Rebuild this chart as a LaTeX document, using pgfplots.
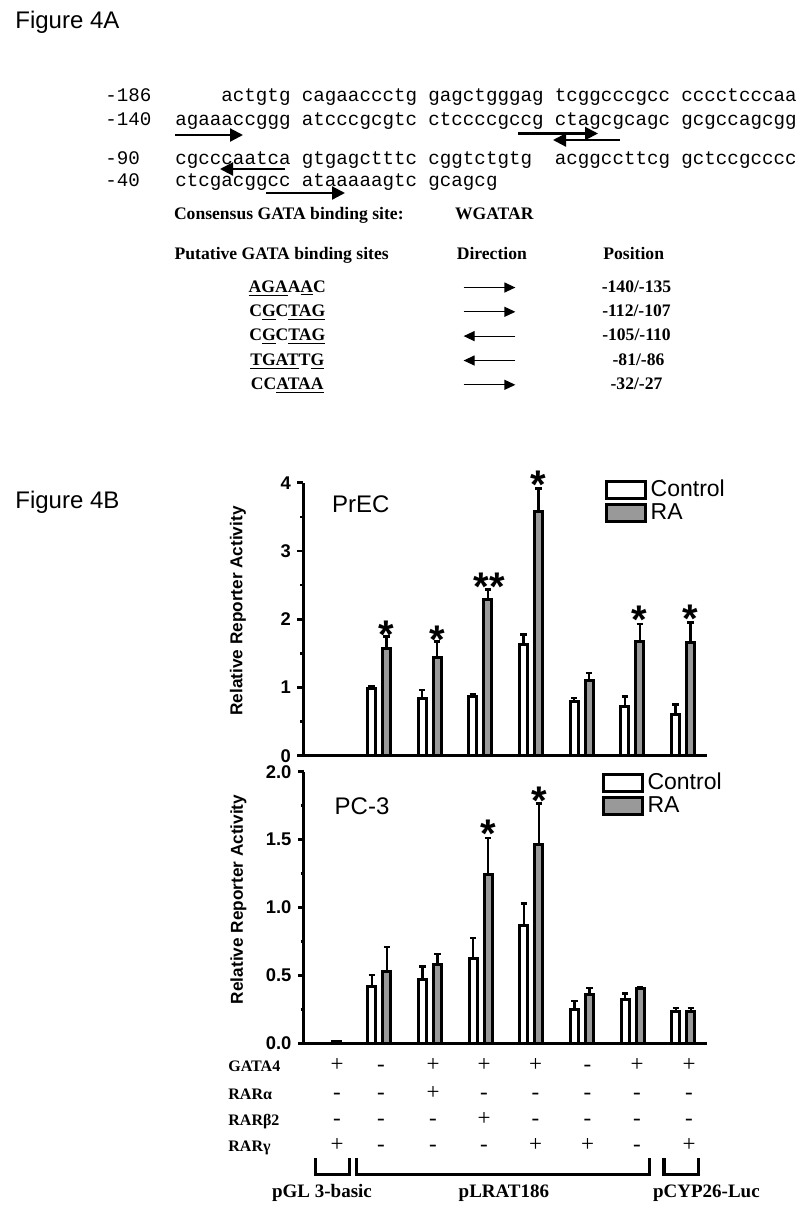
\documentclass[border=0pt]{standalone}
\usepackage{fontspec}
\setmainfont{Liberation Serif}
\setsansfont{Liberation Sans}
\setmonofont{Liberation Mono}
\usepackage{pgfplots}
\pgfplotsset{compat=1.18}
\usepackage{pgfplotstable}
\usetikzlibrary{arrows.meta}

\definecolor{rafill}{gray}{0.6}

% PrEC: group, control, control err, RA, RA err
\pgfplotstableread{
g c ce r re
2 0.985 0.030 1.570 0.175
3 0.835 0.130 1.445 0.230
4 0.870 0.025 2.285 0.150
5 1.630 0.145 3.585 0.330
6 0.790 0.055 1.100 0.110
7 0.720 0.147 1.680 0.250
8 0.605 0.147 1.660 0.290
}\prec

% PC-3
\pgfplotstableread{
g c ce r re
2 0.418 0.083 0.531 0.180
3 0.469 0.096 0.582 0.076
4 0.621 0.155 1.240 0.271
5 0.865 0.164 1.466 0.299
6 0.251 0.059 0.357 0.051
7 0.325 0.041 0.401 0.012
8 0.234 0.027 0.234 0.027
}\pcthree

\pgfplotstableread{
g r
1 0.012
}\pcthreeone

\pgfplotsset{
  panel/.style={
    scale only axis, width=201.6pt, anchor=south west,
    xmin=0.512, xmax=8.47, ymin=0,
    axis x line=bottom, axis y line=left,
    axis line style={line width=1.5pt,-},
    xtick=\empty,
    tick align=outside,
    major tick length=3pt, minor tick length=1.6pt,
    every tick/.style={black, line width=1.3pt},
    tick label style={font=\sffamily\bfseries\fontsize{9.2}{10}\selectfont, inner sep=0.5pt, xshift=-2.6pt},
    /pgf/number format/assume math mode=true,
    ylabel={Relative Reporter Activity},
    every axis y label/.style={at={(axis description cs:-0.1625,0.53)}, rotate=90, anchor=center,
      font=\sffamily\bfseries\fontsize{8.6}{10}\selectfont},
    clip=false,
    legend style={draw=none, fill=none, anchor=north west,
      font=\sffamily\fontsize{11.5}{12}\selectfont,
      nodes={inner sep=0.6pt},
      cells={anchor=west}, inner sep=0pt, row sep=0.8pt, column sep=1.2pt},
  },
  bars/.style={ybar, bar width=4pt, bar shift=0pt, draw=black, line width=1.5pt,
    fill=#1, forget plot,
    error bars/.cd, y dir=plus, y explicit,
    error bar style={line width=1.2pt, black},
    error mark options={rotate=90, line width=1.2pt, mark size=1.6pt}},
}
\tikzset{ast/.style={font=\sffamily\bfseries\fontsize{20}{20}\selectfont, inner sep=0pt,
    anchor=base, yshift=-11.4pt}}

\newcommand{\boxleg}[1]{\addlegendimage{legend image code/.code={%
  \draw[line width=1.5pt, fill=#1] (0pt,-4.2pt) rectangle (19.5pt,4.2pt);}}}

\begin{document}
\begin{tikzpicture}
\path[use as bounding box] (0,0) rectangle (400pt,-606pt);

% ---- Figure 4B, PrEC
\begin{axis}[panel, at={(151.75pt,-377.85pt)}, height=136.5pt, ymax=4,
  ytick={0,1,2,3,4}, minor ytick={0.5,1.5,2.5,3.5},
  legend style={at={(axis description cs:0.747,1.015)}}]
\addplot[bars=white] table[x expr=\thisrow{g}-0.148, y=c, y error=ce] {\prec};
\addplot[bars=rafill] table[x expr=\thisrow{g}+0.148, y=r, y error=re] {\prec};
\boxleg{white}\addlegendentry{Control}
\boxleg{rafill}\addlegendentry{RA}
\node[ast] at (axis cs:2.148,1.90) {*};
\node[ast] at (axis cs:3.148,1.83) {*};
\node[ast] at (axis cs:4.178,2.61) {**};
\node[ast] at (axis cs:5.148,4.11) {*};
\node[ast] at (axis cs:7.148,2.12) {*};
\node[ast] at (axis cs:8.148,2.145) {*};
\end{axis}

% ---- Figure 4B, PC-3
\begin{axis}[panel, at={(152pt,-521.65pt)}, height=135.8pt, ymax=2,
  ytick={0,0.5,1,1.5,2}, minor ytick={0.25,0.75,1.25,1.75},
  yticklabel style={/pgf/number format/.cd, fixed, fixed zerofill, precision=1},
  legend style={at={(axis description cs:0.738,1.0)}}]
\addplot[bars=white] table[x expr=\thisrow{g}-0.148, y=c, y error=ce] {\pcthree};
\addplot[bars=rafill] table[x expr=\thisrow{g}+0.148, y=r, y error=re] {\pcthree};
\addplot[bars=rafill] table[x expr=\thisrow{g}+0.148, y=r] {\pcthreeone};
\boxleg{white}\addlegendentry{Control}
\boxleg{rafill}\addlegendentry{RA}
\node[ast] at (axis cs:4.148,1.607) {*};
\node[ast] at (axis cs:5.148,1.853) {*};
\end{axis}

\begin{scope}[x=0.5pt, y=-0.5pt]
% titles
\node[anchor=base west, inner sep=0pt, font=\sffamily\fontsize{12}{14}\selectfont] at (15,28.3) {Figure 4A};
\node[anchor=base west, inner sep=0pt, font=\sffamily\fontsize{12}{14}\selectfont] at (15,508) {Figure 4B};
\node[anchor=base west, inner sep=0pt, font=\sffamily\fontsize{12}{14}\selectfont] at (331.7,512.7) {PrEC};
\node[anchor=base west, inner sep=0pt, font=\sffamily\fontsize{12}{14}\selectfont] at (334.3,814) {PC-3};

% ---- Figure 4A sequence
\begin{scope}[every node/.style={anchor=base west, inner sep=0pt, font=\ttfamily\fontsize{9.6}{10}\selectfont}]
\node at (105,101) {-186};
\node at (221,101) {actgtg};
\node at (301.5,101) {cagaaccctg};
\node at (428,101) {gagctgggag};
\node at (554.5,101) {tcggcccgcc};
\node at (681,101) {cccctcccaa};
\node at (105,125.5) {-140};
\node at (175,125.5) {agaaaccggg};
\node at (301.5,125.5) {atcccgcgtc};
\node at (428,125.5) {ctccccgccg};
\node at (554.5,125.5) {ctagcgcagc};
\node at (681,125.5) {gcgccagcgg};
\node at (105,164) {-90};
\node at (175,164) {cgcccaatca};
\node at (301.5,164) {gtgagctttc};
\node at (428,164) {cggtctgtg};
\node at (554.5,164) {acggccttcg};
\node at (681,164) {gctccgcccc};
\node at (105,186.5) {-40};
\node at (175,186.5) {ctcgacggcc};
\node at (301.5,186.5) {ataaaaagtc};
\node at (428,186.5) {gcagcg};
\end{scope}
\begin{scope}[line width=1.1pt, arrows={-Triangle[length=6.5pt,width=6.5pt]}]
\draw (175,135) -- (243,135);
\draw (518,133.5) -- (598,133.5);
\draw (620,140) -- (553,140);
\draw (285,169) -- (220,169);
\draw (266,193) -- (345,193);
\end{scope}

% ---- binding site table
\begin{scope}[every node/.style={inner sep=0pt, font=\rmfamily\bfseries\fontsize{8.8}{10}\selectfont}]
\node[anchor=base west] at (173.6,219.6) {Consensus GATA binding site:};
\node[anchor=base west] at (454.6,219.6) {WGATAR};
\node[anchor=base west] at (174.3,259) {Putative GATA binding sites};
\node[anchor=base west] at (456.4,259) {Direction};
\node[anchor=base west] at (603,259) {Position};
\node[anchor=base] at (287.3,292) {\underline{AGA}A\underline{A}C};
\node[anchor=base] at (287.3,316.3) {C\underline{G}C\underline{TAG}};
\node[anchor=base] at (287.3,340.6) {C\underline{G}C\underline{TAG}};
\node[anchor=base] at (287.3,365) {\underline{TGAT}T\underline{G}};
\node[anchor=base] at (287.3,389.3) {CC\underline{ATAA}};
\node[anchor=base] at (636.5,292) {-140/-135};
\node[anchor=base] at (636.5,316.3) {-112/-107};
\node[anchor=base] at (636.5,340.6) {-105/-110};
\node[anchor=base] at (638.5,365) {-81/-86};
\node[anchor=base] at (636.5,389.3) {-32/-27};
\end{scope}
\begin{scope}[line width=0.6pt, arrows={-Triangle[length=5.5pt,width=5pt]}]
\draw (463.6,287.5) -- (515.4,287.5);
\draw (463.6,311.8) -- (515.4,311.8);
\draw (515.4,336.1) -- (463.6,336.1);
\draw (515.4,360.5) -- (463.6,360.5);
\draw (463.6,384.8) -- (515.4,384.8);
\end{scope}

% ---- construct table below the bars
\begin{scope}[every node/.style={anchor=base west, inner sep=0pt, font=\rmfamily\bfseries\fontsize{8}{10}\selectfont}]
\node at (228,1071.7) {GATA4};
\node at (228,1099) {RARα};
\node at (228,1125.7) {RARβ2};
\node at (228,1151.5) {RARγ};
\end{scope}
\begin{scope}[every node/.style={anchor=base, inner sep=0pt, font=\rmfamily\fontsize{11.5}{12}\selectfont}]
\foreach \x/\s in {337/+,381/-,433/+,484/+,535.5/+,587.5/-,637/+,689/+}
  \node at (\x,1071.7) {\s};
\foreach \x/\s in {337/-,381/-,433/+,484/-,535.5/-,587.5/-,637/-,689/-}
  \node at (\x,1099) {\s};
\foreach \x/\s in {337/-,381/-,433/-,484/+,535.5/-,587.5/-,637/-,689/-}
  \node at (\x,1125.7) {\s};
\foreach \x/\s in {337/+,381/-,433/-,484/-,535.5/+,587.5/+,637/-,689/+}
  \node at (\x,1151.5) {\s};
\end{scope}
\begin{scope}[line width=1.65pt, line join=miter]
\draw (315.8,1158.3) -- (315.8,1174.5) -- (349.2,1174.5) -- (349.2,1158.3);
\draw (356.5,1158.3) -- (356.5,1174.5) -- (649.2,1174.5) -- (649.2,1158.3);
\draw (664.1,1158.3) -- (664.1,1174.5) -- (698.5,1174.5) -- (698.5,1158.3);
\end{scope}
\begin{scope}[every node/.style={anchor=base west, inner sep=0pt, font=\rmfamily\bfseries\fontsize{9.5}{10}\selectfont}]
\node at (271.7,1197.7) {pGL 3-basic};
\node at (458.3,1197.7) {pLRAT186};
\node at (652.7,1197.7) {pCYP26-Luc};
\end{scope}
\end{scope}
\end{tikzpicture}
\end{document}
